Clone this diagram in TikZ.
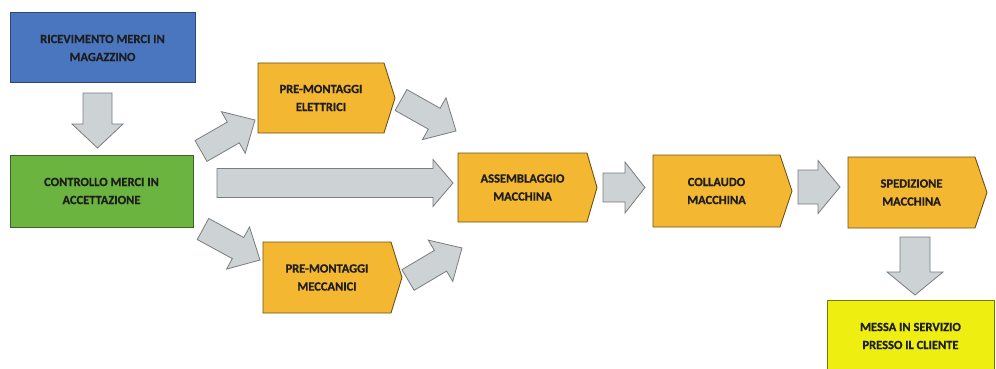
\documentclass[tikz,border=0pt]{standalone}
\usepackage{fontspec}
\setmainfont{Carlito}[BoldFeatures={FakeBold=0.6}]
\usetikzlibrary{calc}
\definecolor{cblue}{HTML}{4A76C0}
\definecolor{cgreen}{HTML}{6BB43F}
\definecolor{corange}{HTML}{F4B731}
\definecolor{cyellow}{HTML}{EEEE10}
\definecolor{cgrey}{HTML}{CDD2D5}
\definecolor{cgreyline}{HTML}{7A7C80}
\definecolor{ctext}{HTML}{1E1E1E}
\tikzset{
  lbl/.style={align=center, font=\fontsize{12.5}{18}\selectfont\bfseries, text=ctext, inner sep=0pt},
  boxfill/.style={line width=0.9pt},
  blockarr/.style={fill=cgrey, draw=cgreyline, line width=0.8pt, line join=miter},
}
% \barrow{from}{to}{shaft half}{head half}{head length}
\newcommand\barrow[5]{%
  \coordinate (hb) at ($(#2)!#5!(#1)$);
  \path[blockarr] ($(#1)!#3!90:(#2)$) -- ($(hb)!#3!-90:(#1)$) -- ($(hb)!#4!-90:(#1)$) -- (#2)
     -- ($(hb)!#4!90:(#1)$) -- ($(hb)!#3!90:(#1)$) -- ($(#1)!#3!-90:(#2)$) -- cycle;}
% \chevron{x1}{y1}{x2}{y2}{tip}{fill}{draw}
\newcommand\chevron[7]{%
  \path[boxfill, fill=#6, draw=#7] (#1,#2) -- (#3,#2) -- (#5,{(#2+#4)/2}) -- (#3,#4) -- (#1,#4) -- cycle;}
\begin{document}
\begin{tikzpicture}[x=1pt, y=-1pt]
\useasboundingbox (0,0) rectangle (996,369);
\fill[white] (0,0) rectangle (996,369);
\clip (0,0) rectangle (996,369);

% boxes
\path[boxfill, fill=cblue, draw=cblue!60!black] (10,12) rectangle (195,82);
\node[lbl] (rec) at (102.5,48) {RICEVIMENTO MERCI IN\\MAGAZZINO};

\path[boxfill, fill=cgreen, draw=cgreen!55!black] (10,155) rectangle (193,227);
\node[lbl] (con) at (101.5,191) {CONTROLLO MERCI IN\\ACCETTAZIONE};

\chevron{258}{63}{384}{133}{395}{corange}{corange!45!black}
\node[lbl] (ele) at (321,98) {PRE-MONTAGGI\\ELETTRICI};

\chevron{263}{242}{391}{313}{402}{corange}{corange!45!black}
\node[lbl] (mec) at (327,277.5) {PRE-MONTAGGI\\MECCANICI};

\chevron{458}{153}{587}{222}{597}{corange}{corange!45!black}
\node[lbl] (ass) at (522.5,187.5) {ASSEMBLAGGIO\\MACCHINA};

\chevron{653}{155}{780}{227}{792}{corange}{corange!45!black}
\node[lbl] (col) at (716.5,191) {COLLAUDO\\MACCHINA};

\chevron{848}{157}{975}{228}{987}{corange}{corange!45!black}
\node[lbl] (spe) at (911.5,192.5) {SPEDIZIONE\\MACCHINA};

\path[boxfill, fill=cyellow, draw=cyellow!50!black] (827,300) rectangle (994,375);
\node[lbl] (mes) at (910.5,336) {MESSA IN SERVIZIO\\PRESSO IL CLIENTE};

% arrow end points
\coordinate (a1s) at (97.5,93);   \coordinate (a1e) at (97.5,148);
\coordinate (a2s) at (201,151);   \coordinate (a2e) at (255,120);
\coordinate (a3s) at (203,229);   \coordinate (a3e) at (260,260);
\coordinate (a4s) at (217,183);   \coordinate (a4e) at (453,183);
\coordinate (a5s) at (401,100);   \coordinate (a5e) at (456,131);
\coordinate (a6s) at (408,280);   \coordinate (a6e) at (462,248);
\coordinate (a7s) at (603,187.5); \coordinate (a7e) at (645,187.5);
\coordinate (a8s) at (798,187);   \coordinate (a8e) at (840,187);
\coordinate (a9s) at (915,237);   \coordinate (a9e) at (915,295);

\barrow{a1s}{a1e}{14.5pt}{25.5pt}{24pt}
\barrow{a2s}{a2e}{12pt}{24pt}{25pt}
\barrow{a3s}{a3e}{12pt}{24pt}{25pt}
\barrow{a4s}{a4e}{14.5pt}{23.5pt}{20pt}
\barrow{a5s}{a5e}{12pt}{24pt}{25pt}
\barrow{a6s}{a6e}{12pt}{24pt}{25pt}
\barrow{a7s}{a7e}{14.5pt}{25.5pt}{20pt}
\barrow{a8s}{a8e}{17pt}{26.5pt}{22pt}
\barrow{a9s}{a9e}{15pt}{28pt}{23pt}
\end{tikzpicture}
\end{document}
